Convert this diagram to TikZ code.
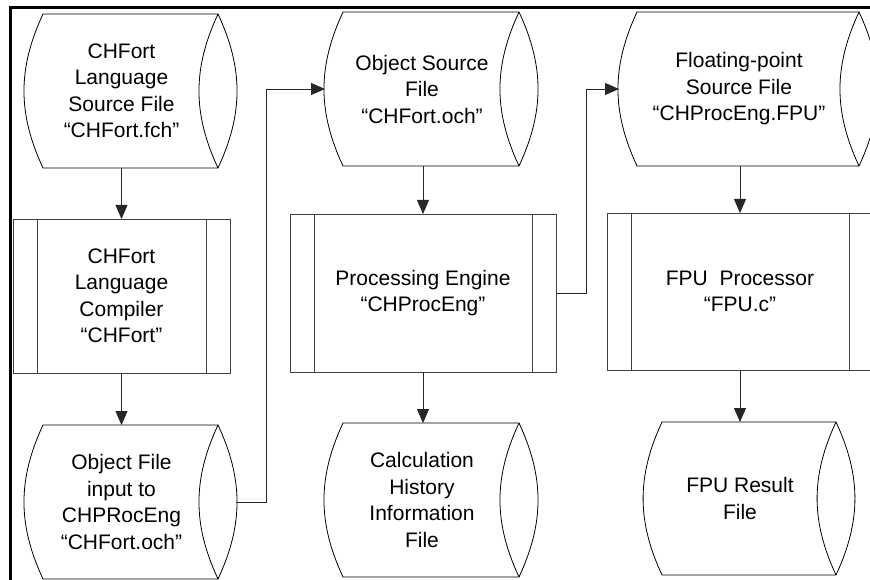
\documentclass[tikz,border=0pt]{standalone}
\usepackage{fontspec}
\setmainfont{Liberation Sans}
\usetikzlibrary{arrows.meta}
\tikzset{
  storebox/.style={draw=none, rectangle, inner sep=0pt, outer sep=0pt, align=center,
    font=\fontsize{21}{26.5}\selectfont},
  procbox/.style={draw=black!75, line width=0.9pt, rectangle, inner sep=0pt, outer sep=0pt, align=center,
    font=\fontsize{21}{26.5}\selectfont},
  storeline/.style={draw=black, line width=0.8pt},
  procline/.style={draw=black!75, line width=0.9pt},
  arr/.style={draw=black!85, line width=0.8pt, -{Triangle[length=14pt,width=12pt]}},
  frame/.style={draw=black, line width=3pt}
}
\newcommand{\drawstore}[1]{%
  \draw[storeline] ([xshift=18pt]#1.north west) to[bend right=25] ([xshift=18pt]#1.south west)
     -- (#1.south east) to[bend right=25] (#1.north east) -- cycle;
  \draw[storeline] (#1.north east) to[bend right=25] (#1.south east);}
\newcommand{\drawproc}[1]{%
  \draw[procline] ([xshift=24pt]#1.north west) -- ([xshift=24pt]#1.south west);
  \draw[procline] ([xshift=-24pt]#1.north east) -- ([xshift=-24pt]#1.south east);}
\begin{document}
\begin{tikzpicture}[x=1pt,y=1pt]
\useasboundingbox (0,0) rectangle (870,579);
\clip (0,0) rectangle (870,579);
\fill[white] (0,0) rectangle (870,579);
\draw[frame] (10,-20) -- (10,571) -- (900,571);

% storage shapes
\node[storebox, minimum width=193pt, minimum height=154pt] (A) at (121.5,488)
  {CHFort\\Language\\Source File\\“CHFort.fch”};
\node[storebox, minimum width=193pt, minimum height=154pt] (B) at (121.5,77)
  {Object File\\input to\\CHPRocEng\\“CHFort.och”};
\node[storebox, minimum width=194pt, minimum height=154pt] (C) at (422,490)
  {Object Source\\File\\“CHFort.och”};
\node[storebox, minimum width=194pt, minimum height=154pt] (D) at (422,79)
  {Calculation\\History\\Information\\File};
\node[storebox, minimum width=240pt, minimum height=154pt] (E) at (739,490)
  {Floating-point\\Source File\\“CHProcEng.FPU”};
\node[storebox, minimum width=192pt, minimum height=153pt] (F) at (740,80.5)
  {FPU Result\\File};
\drawstore{A}\drawstore{B}\drawstore{C}\drawstore{D}\drawstore{E}\drawstore{F}

% process boxes
\node[procbox, minimum width=217pt, minimum height=154pt] (P1) at (121.5,283)
  {CHFort\\Language\\Compiler\\“CHFort”};
\node[procbox, minimum width=266pt, minimum height=158pt] (P2) at (423,286)
  {Processing Engine\\“CHProcEng”};
\node[procbox, minimum width=266pt, minimum height=157pt] (P3) at (740,287.5)
  {FPU\ \ Processor\\“FPU.c”};
\drawproc{P1}\drawproc{P2}\drawproc{P3}

% vertical arrows
\draw[arr] (A.south -| P1.north) -- (P1.north);
\draw[arr] (P1.south) -- (P1.south |- B.north);
\draw[arr] (C.south -| P2.north) -- (P2.north);
\draw[arr] (P2.south) -- (P2.south |- D.north);
\draw[arr] (E.south -| P3.north) -- (P3.north);
\draw[arr] (P3.south) -- (P3.south |- F.north);

% elbow connectors
\coordinate (k1) at (266,300);
\coordinate (k2) at (586,300);
\draw[arr] ([xshift=18pt]B.east) -| (k1 |- C.west) -- (C.west);
\draw[arr] (P2.east) -| (k2 |- E.west) -- (E.west);
\end{tikzpicture}
\end{document}
